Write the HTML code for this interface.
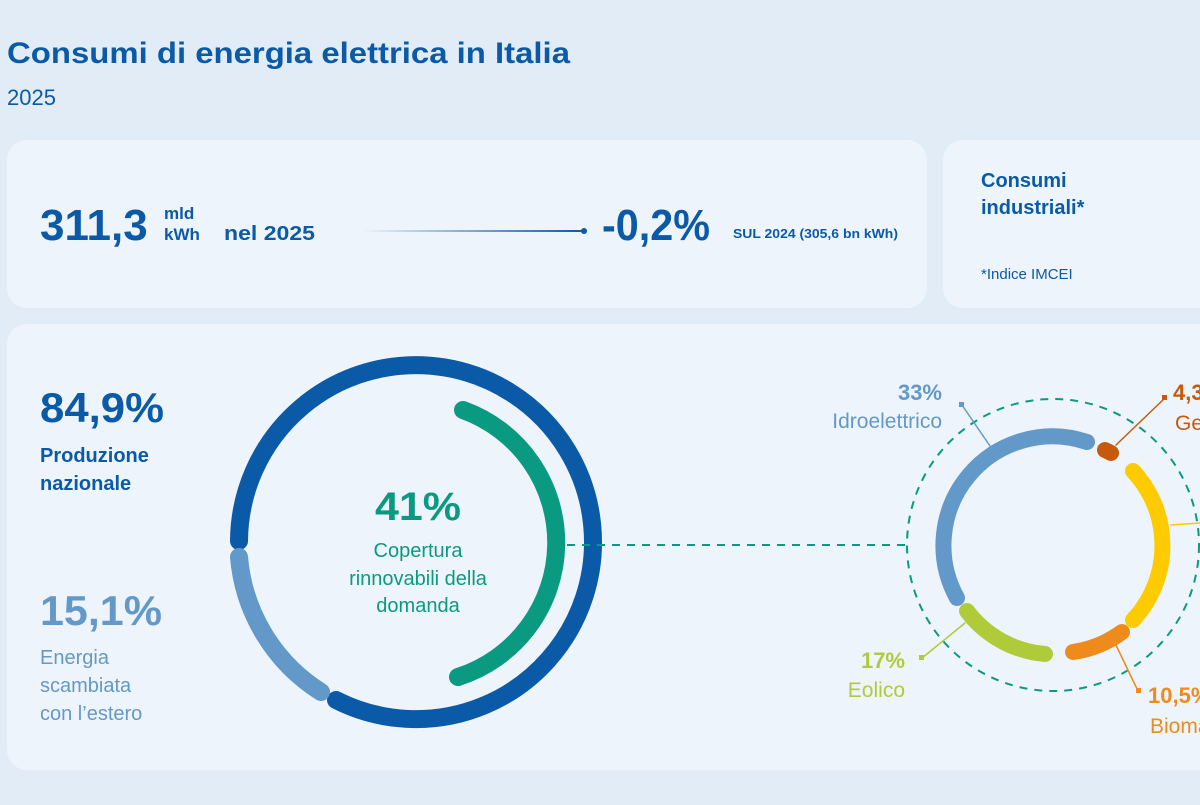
<!DOCTYPE html>
<html><head><meta charset="utf-8"><style>
body{margin:0;width:1200px;height:800px;overflow:hidden;background:#e2ecf6;font-family:"Liberation Sans",sans-serif;}
</style></head><body>
<svg width="1200" height="800" xmlns="http://www.w3.org/2000/svg" font-family="Liberation Sans, sans-serif">
<defs><linearGradient id="g" x1="0" x2="1"><stop offset="0" stop-color="#0a5aa8" stop-opacity="0"/><stop offset="1" stop-color="#0a5aa8"/></linearGradient></defs>
<rect width="1200" height="800" fill="#e2ecf6"/>
<text x="7" y="63" font-size="30" font-weight="bold" fill="#0a5aa8" textLength="563" lengthAdjust="spacingAndGlyphs">Consumi di energia elettrica in Italia</text>
<text x="7" y="105" font-size="22" fill="#0a5aa8">2025</text>
<rect x="7" y="140" width="920" height="168" rx="20" fill="#eef4fb"/>
<rect x="943" y="140" width="300" height="168" rx="20" fill="#eef4fb"/>
<rect x="7" y="324" width="1230" height="446" rx="20" fill="#eef4fb"/>
<g fill="#0a5aa8">
<text x="40" y="240" font-size="44" font-weight="bold">311,3</text>
<text x="164" y="219" font-size="17" font-weight="bold">mld</text>
<text x="164" y="240" font-size="17" font-weight="bold">kWh</text>
<text x="224" y="240" font-size="20" font-weight="bold" textLength="91" lengthAdjust="spacingAndGlyphs">nel 2025</text>
<text x="602" y="240" font-size="44" font-weight="bold" textLength="108" lengthAdjust="spacingAndGlyphs">-0,2%</text>
<text x="733" y="238" font-size="13" font-weight="bold" textLength="165" lengthAdjust="spacingAndGlyphs">SUL 2024 (305,6 bn kWh)</text>
<text x="981" y="187" font-size="20" font-weight="bold">Consumi</text>
<text x="981" y="214" font-size="20" font-weight="bold">industriali*</text>
<text x="981" y="279" font-size="15">*Indice IMCEI</text>
</g>
<rect x="362" y="230" width="222" height="2" fill="url(#g)"/>
<circle cx="584" cy="231" r="3" fill="#0a5aa8"/>
<text x="40" y="422" font-size="42" font-weight="bold" fill="#0a5aa8" textLength="124" lengthAdjust="spacingAndGlyphs">84,9%</text>
<text x="40" y="462" font-size="20" font-weight="bold" fill="#0a5aa8">Produzione</text>
<text x="40" y="490" font-size="20" font-weight="bold" fill="#0a5aa8">nazionale</text>
<text x="40" y="625" font-size="42" font-weight="bold" fill="#6399c9" textLength="122" lengthAdjust="spacingAndGlyphs">15,1%</text>
<g font-size="20" fill="#6399c9"><text x="40" y="664">Energia</text><text x="40" y="692">scambiata</text><text x="40" y="720">con l’estero</text></g>
<g fill="none" stroke-linecap="round">
<path d="M239,541 A177,177 0 1 1 336,700" stroke="#0a5aa8" stroke-width="18"/>
<path d="M239,557 A177,177 0 0 0 321,692" stroke="#6399c9" stroke-width="18"/>
<path d="M463,410 A141,141 0 0 1 458,677" stroke="#0a9a82" stroke-width="18"/>
<line x1="567" y1="545" x2="907" y2="545" stroke="#0a9a82" stroke-width="2" stroke-dasharray="8,7" stroke-linecap="butt"/>
<circle cx="1053" cy="545" r="146" stroke="#0a9a82" stroke-width="2" stroke-dasharray="8,7" stroke-linecap="butt"/>
<path d="M957,598 A109,109 0 0 1 1087,442" stroke="#6399c9" stroke-width="16"/>
<path d="M1105,450 A109,109 0 0 1 1111,453" stroke="#c65a0a" stroke-width="16"/>
<path d="M1133,471 A109,109 0 0 1 1133,620" stroke="#fecb00" stroke-width="16"/>
<path d="M1122,632 A109,109 0 0 1 1073,652" stroke="#ef8a1c" stroke-width="16"/>
<path d="M1045,654 A109,109 0 0 1 967,611" stroke="#b0cb3a" stroke-width="16"/>
<polyline points="962,405 990,446" stroke="#6399c9" stroke-width="1.5"/>
<polyline points="1165,398 1116,445" stroke="#c65a0a" stroke-width="1.5"/>
<polyline points="1171,525 1200,523" stroke="#fecb00" stroke-width="1.5"/>
<polyline points="1115,643 1138,691" stroke="#ef8a1c" stroke-width="1.5"/>
<polyline points="922,658 965,623" stroke="#b0cb3a" stroke-width="1.5"/>
</g>
<rect x="959" y="402" width="5" height="5" fill="#6399c9"/>
<rect x="1162" y="395" width="5" height="5" fill="#c65a0a"/>
<rect x="1136" y="688" width="5" height="5" fill="#ef8a1c"/>
<rect x="919" y="655" width="5" height="5" fill="#b0cb3a"/>
<text x="418" y="520" text-anchor="middle" font-size="40" font-weight="bold" fill="#0a9a82" textLength="86" lengthAdjust="spacingAndGlyphs">41%</text>
<g font-size="20" fill="#0a9a82" text-anchor="middle"><text x="418" y="557">Copertura</text><text x="418" y="585">rinnovabili della</text><text x="418" y="612">domanda</text></g>
<text x="942" y="400" text-anchor="end" font-size="22" font-weight="bold" fill="#6399c9">33%</text>
<text x="942" y="428" text-anchor="end" font-size="21" fill="#6399c9">Idroelettrico</text>
<text x="1173" y="400" font-size="22" font-weight="bold" fill="#c65a0a">4,3%</text>
<text x="1175" y="430" font-size="21" fill="#c65a0a">Geotermico</text>
<text x="905" y="668" text-anchor="end" font-size="22" font-weight="bold" fill="#b0cb3a">17%</text>
<text x="905" y="697" text-anchor="end" font-size="21" fill="#b0cb3a">Eolico</text>
<text x="1148" y="703" font-size="22" font-weight="bold" fill="#ef8a1c">10,5%</text>
<text x="1150" y="733" font-size="21" fill="#ef8a1c">Biomasse</text>
</svg>
</body></html>
